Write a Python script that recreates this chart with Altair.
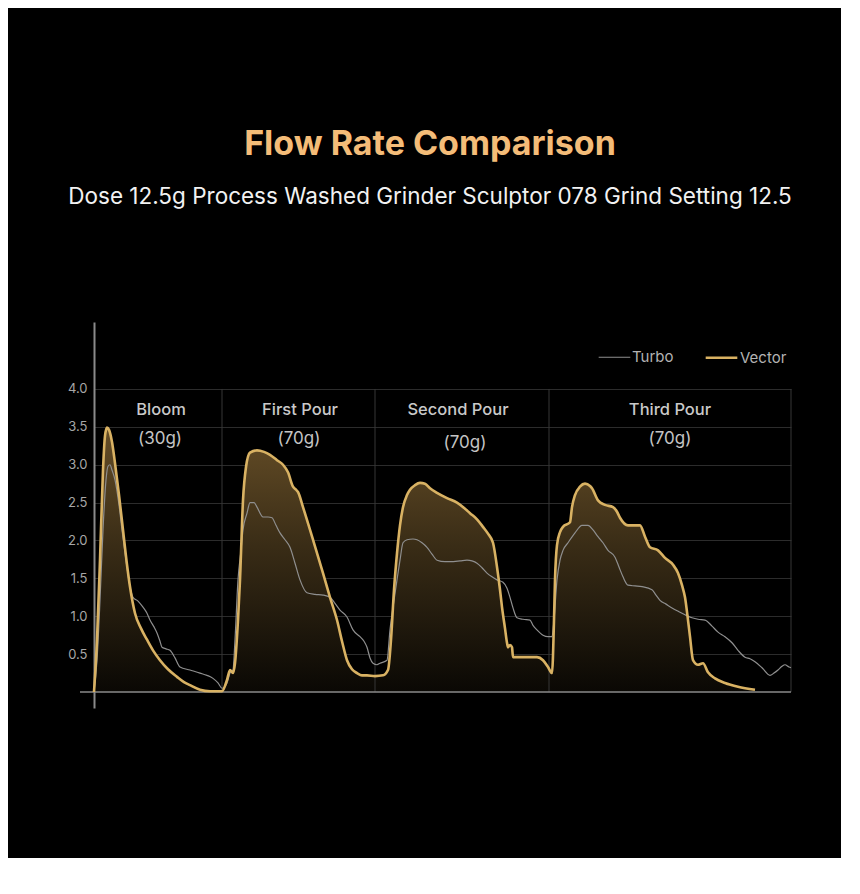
import altair as alt
import pandas as pd

# ---- data (time in arbitrary units, flow in g/s) ----
turbo_t = [0, 3, 6, 9, 12, 14, 16, 18, 21, 25, 28, 32, 36, 39, 44, 49, 53, 56, 60, 63, 66, 68, 72, 76, 81, 86,
           96, 106, 113, 119, 124, 128, 133, 136, 139, 141, 144, 147, 149, 153, 156, 160, 163, 169, 174, 178,
           182, 186, 191, 196, 201, 206, 213, 221, 229, 236, 241, 246, 253, 259, 266, 270, 273, 276, 279, 283,
           286, 293, 296, 300, 303, 306, 309, 313, 319, 323, 328, 333, 338, 343, 351, 356, 366, 373, 378, 383,
           388, 393, 398, 403, 409, 413, 416, 419, 423, 429, 436, 439, 443, 449, 454, 458, 460, 463, 466, 469,
           474, 481, 488, 494, 499, 504, 509, 514, 521, 525, 529, 534, 541, 548, 558, 562, 566, 572, 578, 585,
           591, 598, 604, 611, 618, 624, 631, 638, 644, 651, 656, 661, 668, 676, 680, 684, 688, 691, 695, 697]
turbo_v = [0.00, 0.42, 1.21, 2.14, 2.80, 2.98, 3.00, 2.93, 2.80, 2.47, 2.14, 1.74, 1.39, 1.25, 1.20, 1.12, 1.04,
           0.95, 0.86, 0.78, 0.67, 0.59, 0.57, 0.55, 0.45, 0.33, 0.29, 0.25, 0.22, 0.18, 0.12, 0.05, 0.12, 0.25,
           0.29, 0.69, 1.48, 1.87, 2.14, 2.36, 2.50, 2.50, 2.44, 2.31, 2.31, 2.30, 2.20, 2.10, 2.01, 1.91, 1.70,
           1.48, 1.31, 1.29, 1.28, 1.25, 1.17, 1.08, 0.99, 0.82, 0.73, 0.67, 0.59, 0.45, 0.38, 0.36, 0.38, 0.42,
           0.82, 1.21, 1.48, 1.74, 1.97, 2.01, 2.02, 2.01, 1.97, 1.91, 1.82, 1.74, 1.72, 1.72, 1.73, 1.74, 1.73,
           1.70, 1.64, 1.57, 1.52, 1.48, 1.45, 1.37, 1.25, 1.11, 0.98, 0.96, 0.95, 0.88, 0.82, 0.75, 0.73, 0.73,
           0.95, 1.48, 1.74, 1.87, 1.97, 2.10, 2.20, 2.20, 2.14, 2.05, 1.97, 1.87, 1.78, 1.65, 1.52, 1.41, 1.40,
           1.39, 1.35, 1.28, 1.21, 1.16, 1.11, 1.06, 1.02, 0.98, 0.96, 0.95, 0.87, 0.79, 0.73, 0.65, 0.55, 0.46,
           0.44, 0.40, 0.32, 0.22, 0.25, 0.29, 0.34, 0.36, 0.33, 0.32]

vector_t = [0, 3, 6, 9, 11, 13, 15, 18, 21, 25, 29, 33, 36, 41, 47, 53, 59, 66, 74, 83, 90, 96, 106, 116, 128,
            133, 136, 139, 141, 144, 146, 149, 152, 156, 163, 170, 176, 183, 189, 194, 199, 202, 204, 209, 219,
            229, 236, 243, 248, 253, 258, 263, 268, 273, 281, 289, 294, 297, 300, 303, 306, 309, 313, 316, 321,
            326, 331, 336, 343, 353, 363, 371, 376, 383, 389, 394, 399, 403, 406, 408, 411, 413, 414, 416, 418,
            419, 426, 433, 443, 449, 454, 458, 460, 461, 463, 466, 469, 476, 478, 481, 486, 491, 496, 498, 504,
            511, 519, 523, 526, 534, 540, 546, 551, 556, 564, 571, 579, 584, 588, 591, 594, 596, 599, 604, 609,
            614, 621, 631, 644, 661]
vector_v = [0.00, 0.69, 1.74, 2.93, 3.38, 3.49, 3.46, 3.30, 3.02, 2.60, 2.14, 1.68, 1.39, 1.04, 0.84, 0.69, 0.55,
            0.42, 0.30, 0.20, 0.13, 0.09, 0.03, 0.01, 0.01, 0.16, 0.29, 0.25, 0.38, 0.95, 1.48, 2.53, 2.97, 3.16,
            3.19, 3.17, 3.13, 3.06, 3.00, 2.90, 2.71, 2.67, 2.64, 2.44, 2.01, 1.57, 1.25, 0.95, 0.67, 0.42, 0.30,
            0.25, 0.22, 0.22, 0.21, 0.22, 0.29, 0.69, 1.35, 1.83, 2.20, 2.44, 2.60, 2.67, 2.73, 2.76, 2.75, 2.69,
            2.63, 2.56, 2.50, 2.42, 2.36, 2.28, 2.18, 2.09, 1.97, 1.65, 1.35, 1.12, 0.84, 0.65, 0.59, 0.62, 0.59,
            0.46, 0.46, 0.46, 0.46, 0.42, 0.33, 0.25, 0.95, 1.48, 1.94, 2.11, 2.18, 2.24, 2.44, 2.60, 2.71, 2.75,
            2.72, 2.69, 2.53, 2.47, 2.44, 2.38, 2.30, 2.20, 2.20, 2.20, 2.05, 1.91, 1.87, 1.77, 1.68, 1.57, 1.41,
            1.25, 0.95, 0.73, 0.42, 0.36, 0.38, 0.26, 0.18, 0.12, 0.07, 0.03]

series_names = ["Turbo", "Vector"]
series_colors = ["#8f8f8f", "#D9B263"]
y_ticks = [0.5, 1.0, 1.5, 2.0, 2.5, 3.0, 3.5, 4.0]

phase_names = ["Bloom", "First Pour", "Second Pour", "Third Pour"]
phase_doses = ["(30g)", "(70g)", "(70g)", "(70g)"]
phase_name_t = [67, 206, 364, 576]
phase_name_v = [3.72, 3.72, 3.72, 3.72]
phase_dose_t = [66, 205, 371, 576]
phase_dose_v = [3.34, 3.34, 3.29, 3.34]
divider_t = [128, 281, 455, 697]

# ---- tables ----
lines_df = pd.DataFrame({
    "t": turbo_t + vector_t,
    "v": turbo_v + vector_v,
    "series": ["Turbo"] * len(turbo_t) + ["Vector"] * len(vector_t),
})
vector_df = pd.DataFrame({"t": vector_t, "v": vector_v})
names_df = pd.DataFrame({"t": phase_name_t, "v": phase_name_v, "label": phase_names})
doses_df = pd.DataFrame({"t": phase_dose_t, "v": phase_dose_v, "label": phase_doses})
div_df = pd.DataFrame({"t": divider_t})
base_df = pd.DataFrame({"v": [0.0]})

FONT = "Inter"
x_scale = alt.Scale(domain=[0, 697], nice=False, zero=False)
y_scale = alt.Scale(domain=[-0.211, 4.884], nice=False, zero=False)

y_axis = alt.Axis(
    values=y_ticks, format=".1f", title=None, grid=True, gridColor="#2c2c2c", gridWidth=1,
    domain=True, domainColor="#8a8a8a", domainWidth=2, ticks=False, labelPadding=7,
    labelColor="#a6a6a6", labelFont=FONT, labelFontSize=13,
)

area = alt.Chart(vector_df).mark_area(
    interpolate="monotone",
    color=alt.Gradient(
        gradient="linear",
        stops=[
            alt.GradientStop(color="#664e27", offset=0),
            alt.GradientStop(color="#392c16", offset=0.45),
            alt.GradientStop(color="#0a0804", offset=1),
        ],
        x1=1, x2=1, y1=0, y2=1,
    ),
).encode(
    x=alt.X("t:Q", scale=x_scale, axis=None),
    y=alt.Y("v:Q", scale=y_scale, axis=y_axis),
    y2=alt.datum(0),
)

dividers = alt.Chart(div_df).mark_rule(color="#363636", strokeWidth=1).encode(
    x=alt.X("t:Q", scale=x_scale),
    y=alt.datum(0),
    y2=alt.datum(4.0),
)

baseline = alt.Chart(base_df).mark_rule(color="#8a8a8a", strokeWidth=1.5).encode(
    x=alt.value(-14), x2=alt.value(697), y=alt.Y("v:Q", scale=y_scale)
)

lines = alt.Chart(lines_df).mark_line(interpolate="monotone").encode(
    x=alt.X("t:Q", scale=x_scale),
    y=alt.Y("v:Q", scale=y_scale),
    color=alt.Color(
        "series:N",
        scale=alt.Scale(domain=series_names, range=series_colors),
        legend=alt.Legend(
            orient="none", legendX=504, legendY=18, direction="horizontal", title=None,
            symbolType="stroke", symbolSize=1000, symbolStrokeWidth=2,
            labelColor="#b3b3b3", labelFont=FONT, labelFontSize=15, labelOffset=1,
            columnPadding=26, padding=0,
        ),
    ),
    strokeWidth=alt.StrokeWidth(
        "series:N", scale=alt.Scale(domain=series_names, range=[1.2, 2.6]), legend=None
    ),
)

names = alt.Chart(names_df).mark_text(
    font=FONT, fontSize=16.5, fontWeight=500, color="#c9c9c9"
).encode(x=alt.X("t:Q", scale=x_scale), y=alt.Y("v:Q", scale=y_scale), text="label:N")

doses = alt.Chart(doses_df).mark_text(
    font=FONT, fontSize=17, fontWeight=400, color="#c4c4c4"
).encode(x=alt.X("t:Q", scale=x_scale), y=alt.Y("v:Q", scale=y_scale), text="label:N")

chart = alt.layer(area, dividers, baseline, lines, names, doses).properties(
    width=697,
    height=386,
    autosize=alt.AutoSizeParams(type="none"),
    padding={"left": 86, "top": 314, "right": 50, "bottom": 150},
    background="#000000",
    title=alt.TitleParams(
        text="Flow Rate Comparison",
        subtitle="Dose 12.5g Process Washed Grinder Sculptor 078 Grind Setting 12.5",
        anchor="middle", frame="group", dx=-12.5, offset=114,
        font=FONT, fontSize=34, fontWeight="bold", color="#F4BC78",
        subtitleFont=FONT, subtitleFontSize=22.5, subtitleColor="#f2f2f2", subtitlePadding=24,
    ),
).configure_view(stroke=None)

chart.save("out.html", embed_options={"renderer": "svg", "actions": False})
